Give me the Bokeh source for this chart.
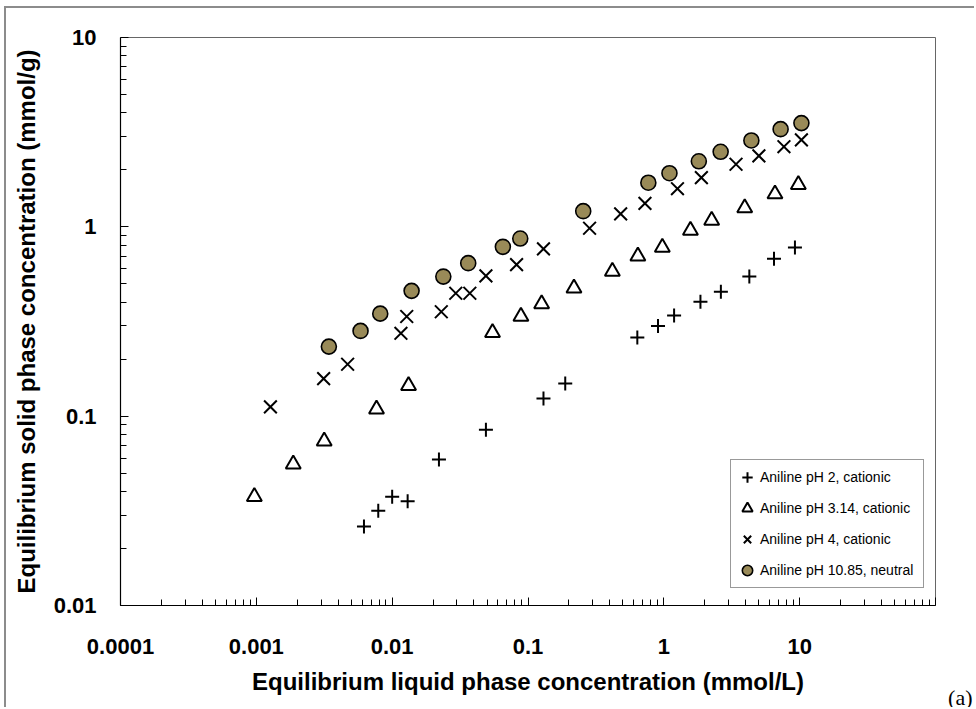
from bokeh.plotting import figure
from bokeh.models import FixedTicker, CustomJSTickFormatter, Legend, LegendItem, Title
from bokeh.embed import file_html
from bokeh.resources import INLINE

# ---- data ----
ph2_x = [0.0062, 0.0079, 0.0100, 0.0130, 0.0221, 0.0490, 0.130, 0.188,
         0.638, 0.906, 1.19, 1.86, 2.63, 4.26, 6.47, 9.23]
ph2_y = [0.0261, 0.0317, 0.0375, 0.0355, 0.0590, 0.0847, 0.124, 0.149,
         0.260, 0.299, 0.340, 0.402, 0.454, 0.546, 0.678, 0.778]

ph314_x = [0.000967, 0.00187, 0.00316, 0.00767, 0.0132, 0.0548, 0.0887, 0.126,
           0.218, 0.418, 0.644, 0.975, 1.57, 2.25, 3.94, 6.58, 9.78]
ph314_y = [0.0376, 0.0557, 0.0737, 0.109, 0.145, 0.276, 0.336, 0.392,
           0.474, 0.582, 0.700, 0.778, 0.956, 1.08, 1.26, 1.49, 1.67]

ph4_x = [0.00127, 0.00313, 0.00470, 0.0116, 0.0128, 0.0230, 0.0294, 0.0373,
         0.0490, 0.0824, 0.130, 0.284, 0.481, 0.726, 1.26, 1.89, 3.40, 5.01,
         7.66, 10.3]
ph4_y = [0.112, 0.158, 0.188, 0.274, 0.336, 0.356, 0.446, 0.446,
         0.551, 0.632, 0.765, 0.983, 1.17, 1.33, 1.59, 1.82, 2.14, 2.37,
         2.65, 2.88]

ph1085_x = [0.00342, 0.00585, 0.00817, 0.0139, 0.0238, 0.0363, 0.0653, 0.0877,
            0.255, 0.769, 1.10, 1.81, 2.62, 4.41, 7.24, 10.3]
ph1085_y = [0.233, 0.282, 0.348, 0.459, 0.546, 0.643, 0.784, 0.867,
            1.21, 1.71, 1.92, 2.22, 2.49, 2.86, 3.28, 3.53]

series_labels = ["Aniline pH 2, cationic", "Aniline pH 3.14, cationic",
                 "Aniline pH 4, cationic", "Aniline pH 10.85, neutral"]

x_major = [0.0001, 0.001, 0.01, 0.1, 1, 10, 100]
y_major = [0.01, 0.1, 1, 10]
x_minor = [m * 10.0 ** e for e in range(-4, 2) for m in range(2, 10)]
y_minor = [m * 10.0 ** e for e in range(-2, 1) for m in range(2, 10)]

x_title = "Equilibrium liquid phase concentration (mmol/L)"
y_title = "Equilibrium solid phase concentration (mmol/g)"
panel_tag = "(a)"

FONT = "Liberation Sans"

p = figure(width=970, height=701, x_axis_type="log", y_axis_type="log",
           x_range=(1e-4, 100), y_range=(0.01, 10),
           output_backend="svg", toolbar_location=None,
           min_border_left=114, min_border_right=41,
           min_border_top=29, min_border_bottom=104)
p.styles = {"margin-left": "4px", "margin-top": "6px",
            "border-left": "2px solid #8c8c8c", "border-top": "2px solid #8c8c8c"}

p.background_fill_color = "white"
p.border_fill_color = "white"
p.outline_line_color = "#666666"
p.outline_line_width = 1
p.grid.visible = False

fmt = "return tick > 50 ? '' : String(parseFloat(tick.toPrecision(6)));"

for ax, ticks, minors, title, standoff in (
        (p.xaxis[0], x_major, x_minor, x_title, 33),
        (p.yaxis[0], y_major, y_minor, y_title, 24)):
    ax.ticker = FixedTicker(ticks=ticks, minor_ticks=minors)
    ax.formatter = CustomJSTickFormatter(code=fmt)
    ax.major_tick_in = 8
    ax.major_tick_out = 0
    ax.minor_tick_in = 6
    ax.minor_tick_out = 0
    ax.axis_line_color = "black"
    ax.axis_line_width = 1.2
    ax.major_tick_line_color = "black"
    ax.minor_tick_line_color = "black"
    ax.major_label_text_font = FONT
    ax.major_label_text_font_style = "bold"
    ax.major_label_text_font_size = "22px"
    ax.major_label_text_color = "black"
    ax.major_label_standoff = standoff
    ax.axis_label = title
    ax.axis_label_text_font = FONT
    ax.axis_label_text_font_style = "bold"
    ax.axis_label_text_font_size = "24px"
    ax.axis_label_text_color = "black"
    ax.axis_label_standoff = 11

r1 = p.scatter(ph2_x, ph2_y, marker="cross", size=14,
               line_color="black", line_width=2)
r2 = p.scatter(ph314_x, ph314_y, marker="triangle", size=15,
               line_color="black", line_width=2, fill_color="white")
r3 = p.scatter(ph4_x, ph4_y, marker="x", size=18,
               line_color="black", line_width=2)
r4 = p.scatter(ph1085_x, ph1085_y, marker="circle", size=15,
               line_color="black", line_width=1.6, fill_color="#998a58")

legend = Legend(items=[LegendItem(label=lab, renderers=[r])
                       for lab, r in zip(series_labels, [r1, r2, r3, r4])],
                location=(610, 17), margin=0, padding=3, spacing=3,
                glyph_width=26, glyph_height=28, label_height=28,
                label_width=160, label_standoff=0,
                label_text_font=FONT, label_text_font_size="14px",
                label_text_color="black",
                border_line_color="#333333", border_line_width=1,
                background_fill_color="white", background_fill_alpha=1.0)
p.add_layout(legend)

# panel tag "(a)" placed in the bottom side panel (not clipped to the frame)
tag = Title(text=panel_tag, align="right", vertical_align="top",
            offset=-37, standoff=-26,
            text_font="Liberation Serif", text_font_size="22px",
            text_font_style="normal", text_color="black")
p.add_layout(tag, "below")

open("out.html", "w").write(file_html(p, INLINE))
